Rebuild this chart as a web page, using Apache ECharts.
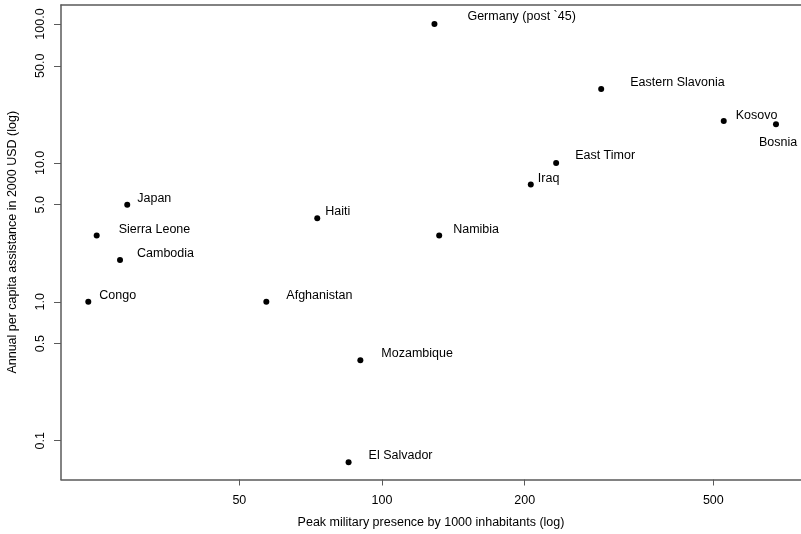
<!DOCTYPE html>
<html>
<head>
<meta charset="utf-8">
<script src="https://cdn.jsdelivr.net/npm/echarts@6/dist/echarts.min.js"></script>
<style>html,body{margin:0;padding:0;background:#fff}#c{width:801px;height:534px}</style>
</head>
<body>
<div id="c"></div>
<script>
// ---- data ----
var countries = ["Germany (post `45)", "Japan", "Sierra Leone", "Cambodia", "Congo", "Afghanistan", "Haiti", "Namibia",
  "Mozambique", "El Salvador", "Eastern Slavonia", "Kosovo", "Bosnia", "East Timor", "Iraq"];
var militaryPresence = [129, 29, 25, 28, 24, 57, 73, 132, 90, 85, 290, 526, 678, 233, 206];
var assistance = [100, 5.0, 3.0, 2.0, 1.0, 1.0, 4.0, 3.0, 0.38, 0.07, 34, 20, 19, 10, 7.0];
var xTicks = [50, 100, 200, 500];
var yTicks = [0.1, 0.5, 1, 5, 10, 50, 100];

// ---- label placement (styling only) ----
var labelOffsets = [[30,-7],[7,-6],[19,-6],[14,-6],[8,-6],[17,-6],[5,-7],[11,-6],
  [18,-7],[17,-7],[26,-7],[9,-6],[-20,18],[16,-7],[4,-6]];

var FONT = "'Liberation Sans', Arial, Helvetica, sans-serif";
var FS = 12.5;
var TXT = '#000';
var LINE = '#5a5a5a';
var XMIN = 21.02, XMAX = 765.6;

var points = countries.map(function (n, i) {
  return {
    name: n,
    value: [militaryPresence[i], assistance[i]],
    label: { offset: labelOffsets[i] }
  };
});

var chart = echarts.init(document.getElementById('c'), null, { renderer: 'canvas' });
chart.setOption({
  animation: false,
  backgroundColor: '#fff',
  textStyle: { fontFamily: FONT },
  grid: { left: 61, top: 5, right: 0, bottom: 54.5, show: false, containLabel: false, outerBoundsMode: 'none' },
  xAxis: [{
    type: 'log', logBase: 10, min: XMIN, max: XMAX, position: 'bottom',
    name: 'Peak military presence by 1000 inhabitants (log)',
    nameLocation: 'middle', nameGap: 37,
    nameTextStyle: { fontSize: FS, color: TXT, fontFamily: FONT },
    axisLine: { show: true, onZero: false, lineStyle: { color: LINE, width: 1.5 } },
    axisTick: { show: true, length: 6, customValues: xTicks, lineStyle: { color: LINE, width: 1 } },
    axisLabel: { customValues: xTicks, fontSize: FS, color: TXT, margin: 15, fontFamily: FONT,
      formatter: function (v) { return String(Math.round(v)); } },
    splitLine: { show: false }
  }, {
    type: 'log', logBase: 10, min: XMIN, max: XMAX, position: 'top',
    axisLine: { show: true, onZero: false, lineStyle: { color: LINE, width: 1.5 } },
    axisTick: { show: false }, axisLabel: { show: false }, splitLine: { show: false }
  }],
  yAxis: {
    type: 'log', logBase: 10, min: 0.05259, max: 136.99,
    name: 'Annual per capita assistance in 2000 USD (log)',
    nameLocation: 'middle', nameGap: 42, nameRotate: 90,
    nameTextStyle: { fontSize: FS, color: TXT, fontFamily: FONT },
    axisLine: { show: true, onZero: false, lineStyle: { color: LINE, width: 1.5 } },
    axisTick: { show: true, length: 7, customValues: yTicks, lineStyle: { color: LINE, width: 1 } },
    axisLabel: { customValues: yTicks, rotate: 90, fontSize: FS, color: TXT, margin: 14, fontFamily: FONT,
      formatter: function (v) { return (Math.round(v * 10) / 10).toFixed(1); } },
    splitLine: { show: false }
  },
  series: [{
    type: 'scatter',
    xAxisIndex: 0,
    symbol: 'circle',
    symbolSize: 6,
    itemStyle: { color: '#000', opacity: 1 },
    data: points,
    label: {
      show: true, position: 'right', distance: 0,
      formatter: '{b}', fontSize: FS, color: TXT, fontFamily: FONT,
      align: 'left', verticalAlign: 'middle', opacity: 1
    },
    emphasis: { disabled: true }
  }]
});
</script>
</body>
</html>
